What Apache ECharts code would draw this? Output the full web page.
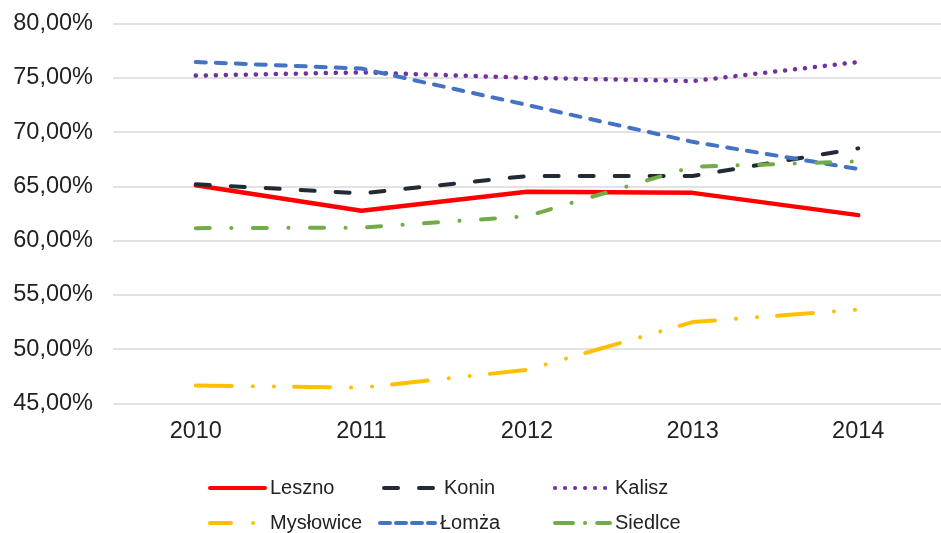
<!DOCTYPE html>
<html>
<head>
<meta charset="utf-8">
<script src="https://cdn.jsdelivr.net/npm/echarts@6/dist/echarts.min.js"></script>
<style>
  html, body { margin: 0; padding: 0; background: #fff; }
  #chart { width: 941px; height: 533px; }
</style>
</head>
<body>
<div id="chart"></div>
<script>
// dane
const years = ['2010', '2011', '2012', '2013', '2014'];
const leszno = [65.1, 62.75, 64.5, 64.4, 62.35];
const konin = [65.2, 64.35, 65.95, 65.95, 68.5];
const kalisz = [75.2, 75.5, 75.0, 74.7, 76.45];
const myslowice = [46.65, 46.45, 48.1, 52.5, 53.65];
const lomza = [76.45, 75.85, 72.5, 69.1, 66.6];
const siedlce = [61.15, 61.2, 62.25, 66.8, 67.3];

const chart = echarts.init(document.getElementById('chart'));

const font = 'Liberation Sans, Arial, sans-serif';

function line(name, data, color, width, type) {
  return {
    name: name,
    type: 'line',
    data: data,
    symbol: 'none',
    smooth: false,
    lineStyle: { color: color, width: width, type: type, cap: 'round' },
    itemStyle: { color: color }
  };
}

// jedna legenda na pozycję, żeby ułożyć je w dwa rzędy po trzy
function legendItem(name, left, top, dash) {
  const lineStyle = { width: 4, cap: 'round' };
  if (dash) lineStyle.type = dash;
  return {
    data: [name],
    left: left,
    top: top,
    padding: 0,
    itemWidth: 55,
    itemHeight: 14,
    itemStyle: { opacity: 0 },
    lineStyle: lineStyle,
    textStyle: { fontFamily: font, fontSize: 20, color: '#222' }
  };
}

const option = {
  animation: false,
  grid: { left: 113, right: -12, top: 23.5, bottom: 129.5 },
  legend: [
    legendItem('Leszno', 208, 478),
    legendItem('Konin', 382, 478),
    legendItem('Kalisz', 553, 478),
    legendItem('Mysłowice', 208, 513, [21, 22, 0.1, 30]),
    legendItem('Łomża', 378, 513, [10, 6]),
    legendItem('Siedlce', 553, 513, [18, 12, 0.1, 12])
  ],
  xAxis: {
    type: 'category',
    data: years,
    boundaryGap: true,
    axisLine: { show: false },
    axisTick: { show: false },
    axisLabel: { fontFamily: font, fontSize: 23.5, color: '#222', margin: 16 }
  },
  yAxis: {
    type: 'value',
    min: 45,
    max: 80,
    interval: 5,
    axisLine: { show: false },
    axisTick: { show: false },
    axisLabel: {
      fontFamily: font, fontSize: 23.5, color: '#222', margin: 20,
      formatter: (v) => v.toFixed(2).replace('.', ',') + '%'
    },
    splitLine: { lineStyle: { color: '#d9d9d9', width: 1.5 } }
  },
  series: [
    line('Leszno', leszno, '#FF0000', 4.5, 'solid'),
    line('Konin', konin, '#222A35', 4, [14, 21]),
    line('Kalisz', kalisz, '#7030A0', 4.5, [0.1, 9.9]),
    line('Mysłowice', myslowice, '#FFC000', 4, [36, 21, 0.1, 21, 0.1, 20]),
    line('Łomża', lomza, '#4472C4', 4, [10, 10]),
    line('Siedlce', siedlce, '#70AD47', 4, [14, 21.5, 0.1, 21.5])
  ]
};

chart.setOption(option);
</script>
</body>
</html>
